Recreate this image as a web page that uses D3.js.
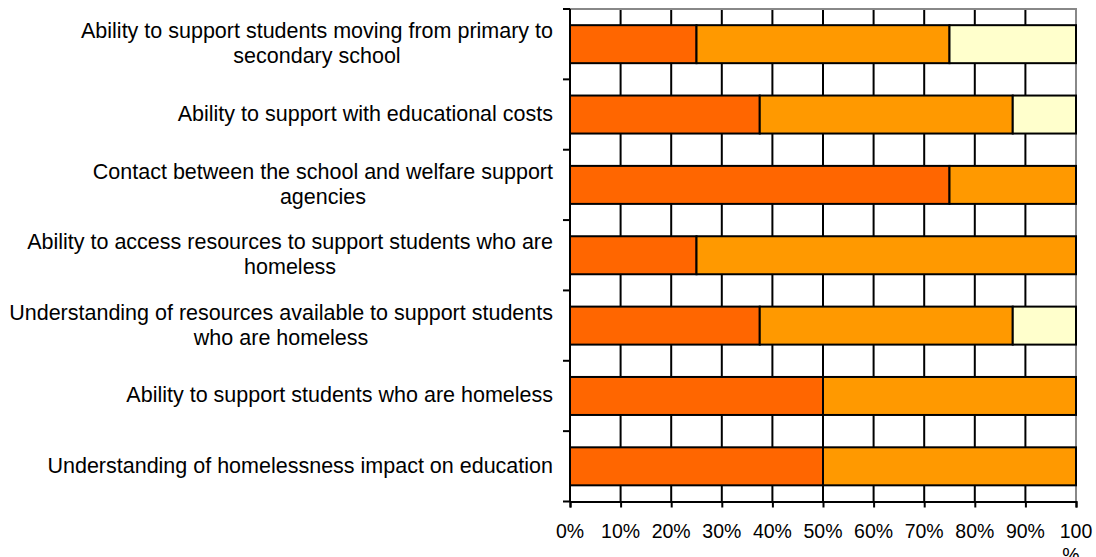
<!DOCTYPE html>
<html>
<head>
<meta charset="utf-8">
<script src="https://cdn.jsdelivr.net/npm/d3@7"></script>
<style>
  body { margin: 0; background: #fff; }
  svg text { font-family: "Liberation Sans", Arial, Helvetica, sans-serif; fill: #000; }
</style>
</head>
<body>
<svg id="chart" width="1096" height="557"></svg>
<script>
// Survey items, top to bottom; each label is pre-split into its display lines
const categories = [
  ["Ability to support students moving from primary to", "secondary school"],
  ["Ability to support with educational costs"],
  ["Contact between the school and welfare support", "agencies"],
  ["Ability to access resources to support students who are", "homeless"],
  ["Understanding of resources available to support students", "who are homeless"],
  ["Ability to support students who are homeless"],
  ["Understanding of homelessness impact on education"]
];
// Percentage of responses per rating, one array per series
const seriesA = [25, 37.5, 75, 25, 37.5, 50, 50];
const seriesB = [50, 50, 25, 75, 50, 50, 50];
const seriesC = [25, 12.5, 0, 0, 12.5, 0, 0];
const seriesColors = ["#FF6600", "#FF9900", "#FFFFCC"];
const tickValues = [0, 10, 20, 30, 40, 50, 60, 70, 80, 90, 100];

const svg = d3.select("#chart");
const plotLeft = 570, plotRight = 1076, plotTop = 9, plotBottom = 501.5;

const x = d3.scaleLinear().domain([0, 100]).range([plotLeft, plotRight]);
const y = d3.scaleBand().domain(d3.range(categories.length)).range([plotTop, plotBottom]).paddingInner(0).paddingOuter(0);
const barH = 38;

// vertical gridlines
svg.append("g").selectAll("line").data(tickValues.slice(1, -1)).join("line")
  .attr("x1", d => x(d)).attr("x2", d => x(d))
  .attr("y1", plotTop).attr("y2", plotBottom)
  .attr("stroke", "#000").attr("stroke-width", 2);

// plot frame: grey top and right edges
svg.append("path")
  .attr("d", `M${plotLeft},${plotTop}H${plotRight}V${plotBottom}`)
  .attr("fill", "none").attr("stroke", "#888").attr("stroke-width", 2);

// stacked bars
const rows = categories.map((c, i) => [seriesA[i], seriesB[i], seriesC[i]]);
const stack = d3.stack().keys([0, 1, 2])(rows);
stack.forEach((layer, k) => {
  svg.append("g").selectAll("rect").data(layer.map((d, i) => ({ d, i })).filter(o => o.d[1] - o.d[0] > 0)).join("rect")
    .attr("x", o => x(o.d[0]))
    .attr("width", o => x(o.d[1]) - x(o.d[0]))
    .attr("y", o => y(o.i) + (y.bandwidth() - barH) / 2)
    .attr("height", barH)
    .attr("fill", seriesColors[k])
    .attr("stroke", "#000").attr("stroke-width", 2);
});

// x axis
const xAxis = svg.append("g").attr("transform", `translate(0,${plotBottom})`)
  .call(d3.axisBottom(x).tickValues(tickValues).tickSize(6).tickFormat(""));
xAxis.select(".domain").attr("stroke", "#000").attr("stroke-width", 2);
xAxis.selectAll(".tick line").attr("stroke", "#000").attr("stroke-width", 2);

// tick labels; the last one wraps its "%" onto a second line
const xl = svg.append("g").attr("font-size", 19.5);
tickValues.forEach(v => {
  if (v < 100) {
    xl.append("text").attr("x", x(v)).attr("y", 538).attr("text-anchor", "middle").text(v + "%");
  } else {
    xl.append("text").attr("x", x(v)).attr("y", 538).attr("text-anchor", "middle").text("100");
    xl.append("text").attr("x", x(v) - 5).attr("y", 562).attr("text-anchor", "middle").text("%");
  }
});

// y axis with ticks at band boundaries
svg.append("line").attr("x1", plotLeft).attr("x2", plotLeft).attr("y1", plotTop).attr("y2", plotBottom)
  .attr("stroke", "#000").attr("stroke-width", 2);
const bounds = d3.range(categories.length + 1).map(i => plotTop + i * y.step());
svg.append("g").selectAll("line").data(bounds).join("line")
  .attr("x1", plotLeft - 7).attr("x2", plotLeft).attr("y1", d => d).attr("y2", d => d)
  .attr("stroke", "#000").attr("stroke-width", 2);

// category labels: lines centred on each other, block right-aligned
const labelRight = 553;
categories.forEach((lines, i) => {
  const g = svg.append("g");
  const cy = y(i) + y.bandwidth() / 2;
  const lh = 25;
  const texts = lines.map((t, j) => g.append("text")
    .attr("font-size", 21.5)
    .attr("y", cy + (j - (lines.length - 1) / 2) * lh + 6.5)
    .text(t));
  const w = d3.max(texts, t => t.node().getComputedTextLength());
  texts.forEach(t => t.attr("x", labelRight - w / 2).attr("text-anchor", "middle"));
});
</script>
</body>
</html>
